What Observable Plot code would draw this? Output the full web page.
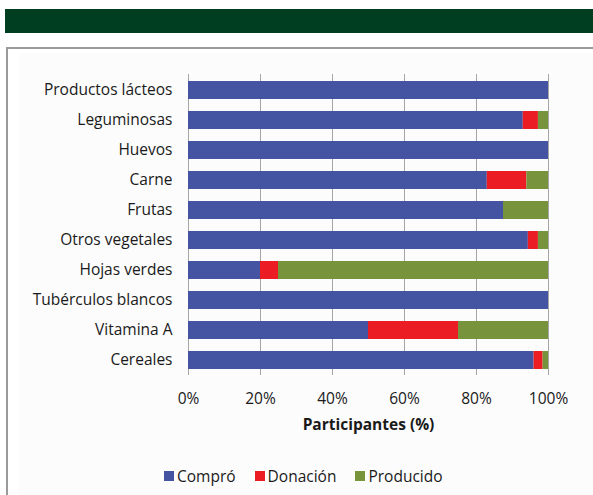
<!DOCTYPE html>
<html>
<head>
<meta charset="utf-8">
<script src="https://cdn.jsdelivr.net/npm/d3@7"></script>
<script src="https://cdn.jsdelivr.net/npm/@observablehq/plot@0.6"></script>
<style>
  html, body { margin: 0; padding: 0; background: #fff; }
  #page { position: relative; width: 593px; height: 495px; overflow: hidden; font-family: "Open Sans", sans-serif; }
  #banner { position: absolute; left: 5px; top: 9px; width: 600px; height: 24px; background: #003E21; }
  #box { position: absolute; left: 6px; top: 47px; width: 600px; height: 460px; border-left: 2px solid #9a9a9a; border-top: 2px solid #9a9a9a; box-sizing: border-box; }
  #inner { position: absolute; left: 19px; top: 53px; width: 600px; height: 460px; background: #fcfcfc; }
  #chart { position: absolute; left: 0; top: 0; }
  #legend { position: absolute; top: 465px; left: 164px; display: flex; gap: 19px; font-size: 15.5px; color: #1a1a1a; }
  #legend span.item { display: flex; align-items: center; }
  #legend span.sw { display: inline-block; width: 10px; height: 10px; margin-right: 3px; }
</style>
</head>
<body>
<div id="page">
  <div id="banner"></div>
  <div id="box"></div>
  <div id="inner"></div>
  <div id="chart"></div>
  <div id="legend"></div>
</div>
<script>
const categories = ["Productos lácteos","Leguminosas","Huevos","Carne","Frutas","Otros vegetales","Hojas verdes","Tubérculos blancos","Vitamina A","Cereales"];
const series = ["Compró","Donación","Producido"];
const compro    = [100, 93,   100, 83, 87.5, 94.4, 20, 100, 50, 96];
const donacion  = [0,   4.2,  0,   11, 0,    2.8,  5,  0,   25, 2.5];
const producido = [0,   2.8,  0,   6,  12.5, 2.8,  75, 0,   25, 1.5];
const colors = ["#4454A3", "#EC1C24", "#77933C"];
const xTicks = [0, 20, 40, 60, 80, 100];

const data = [];
categories.forEach((c, i) => {
  data.push({cat: c, serie: series[0], value: compro[i]});
  data.push({cat: c, serie: series[1], value: donacion[i]});
  data.push({cat: c, serie: series[2], value: producido[i]});
});

const chart = Plot.plot({
  width: 593,
  height: 495,
  marginLeft: 188,
  marginRight: 45,
  marginTop: 74,
  marginBottom: 120,
  style: { fontFamily: "'Open Sans', sans-serif", fontSize: "15.5px", color: "#1a1a1a", background: "transparent" },
  x: { domain: [0, 100], ticks: xTicks, tickFormat: d => d + "%", tickSize: 0, tickPadding: 17, label: null },
  y: { domain: categories, paddingInner: 0.4, paddingOuter: 0.2, tickSize: 0, tickPadding: 16, label: null },
  color: { domain: series, range: colors },
  marks: [
    Plot.ruleX(xTicks, { stroke: "#a6a6a6", strokeWidth: 1 }),
    Plot.barX(data, Plot.stackX({ x: "value", y: "cat", fill: "serie", order: series })),
    Plot.axisX({ ticks: xTicks, tickFormat: d => d + "%", tickSize: 0, tickPadding: 17, label: null, fontSize: 15.5 }),
    Plot.axisY({ tickSize: 0, tickPadding: 16, label: null, fontSize: 15.5 }),
    Plot.text(["Participantes (%)"], { frameAnchor: "bottom", dy: 54, fontWeight: "bold", fontSize: 15.5, fill: "#1a1a1a" })
  ]
});
document.getElementById("chart").appendChild(chart);

const legend = document.getElementById("legend");
series.forEach((s, i) => {
  const item = document.createElement("span");
  item.className = "item";
  const sw = document.createElement("span");
  sw.className = "sw";
  sw.style.background = colors[i];
  item.appendChild(sw);
  item.appendChild(document.createTextNode(s));
  legend.appendChild(item);
});
</script>
</body>
</html>
